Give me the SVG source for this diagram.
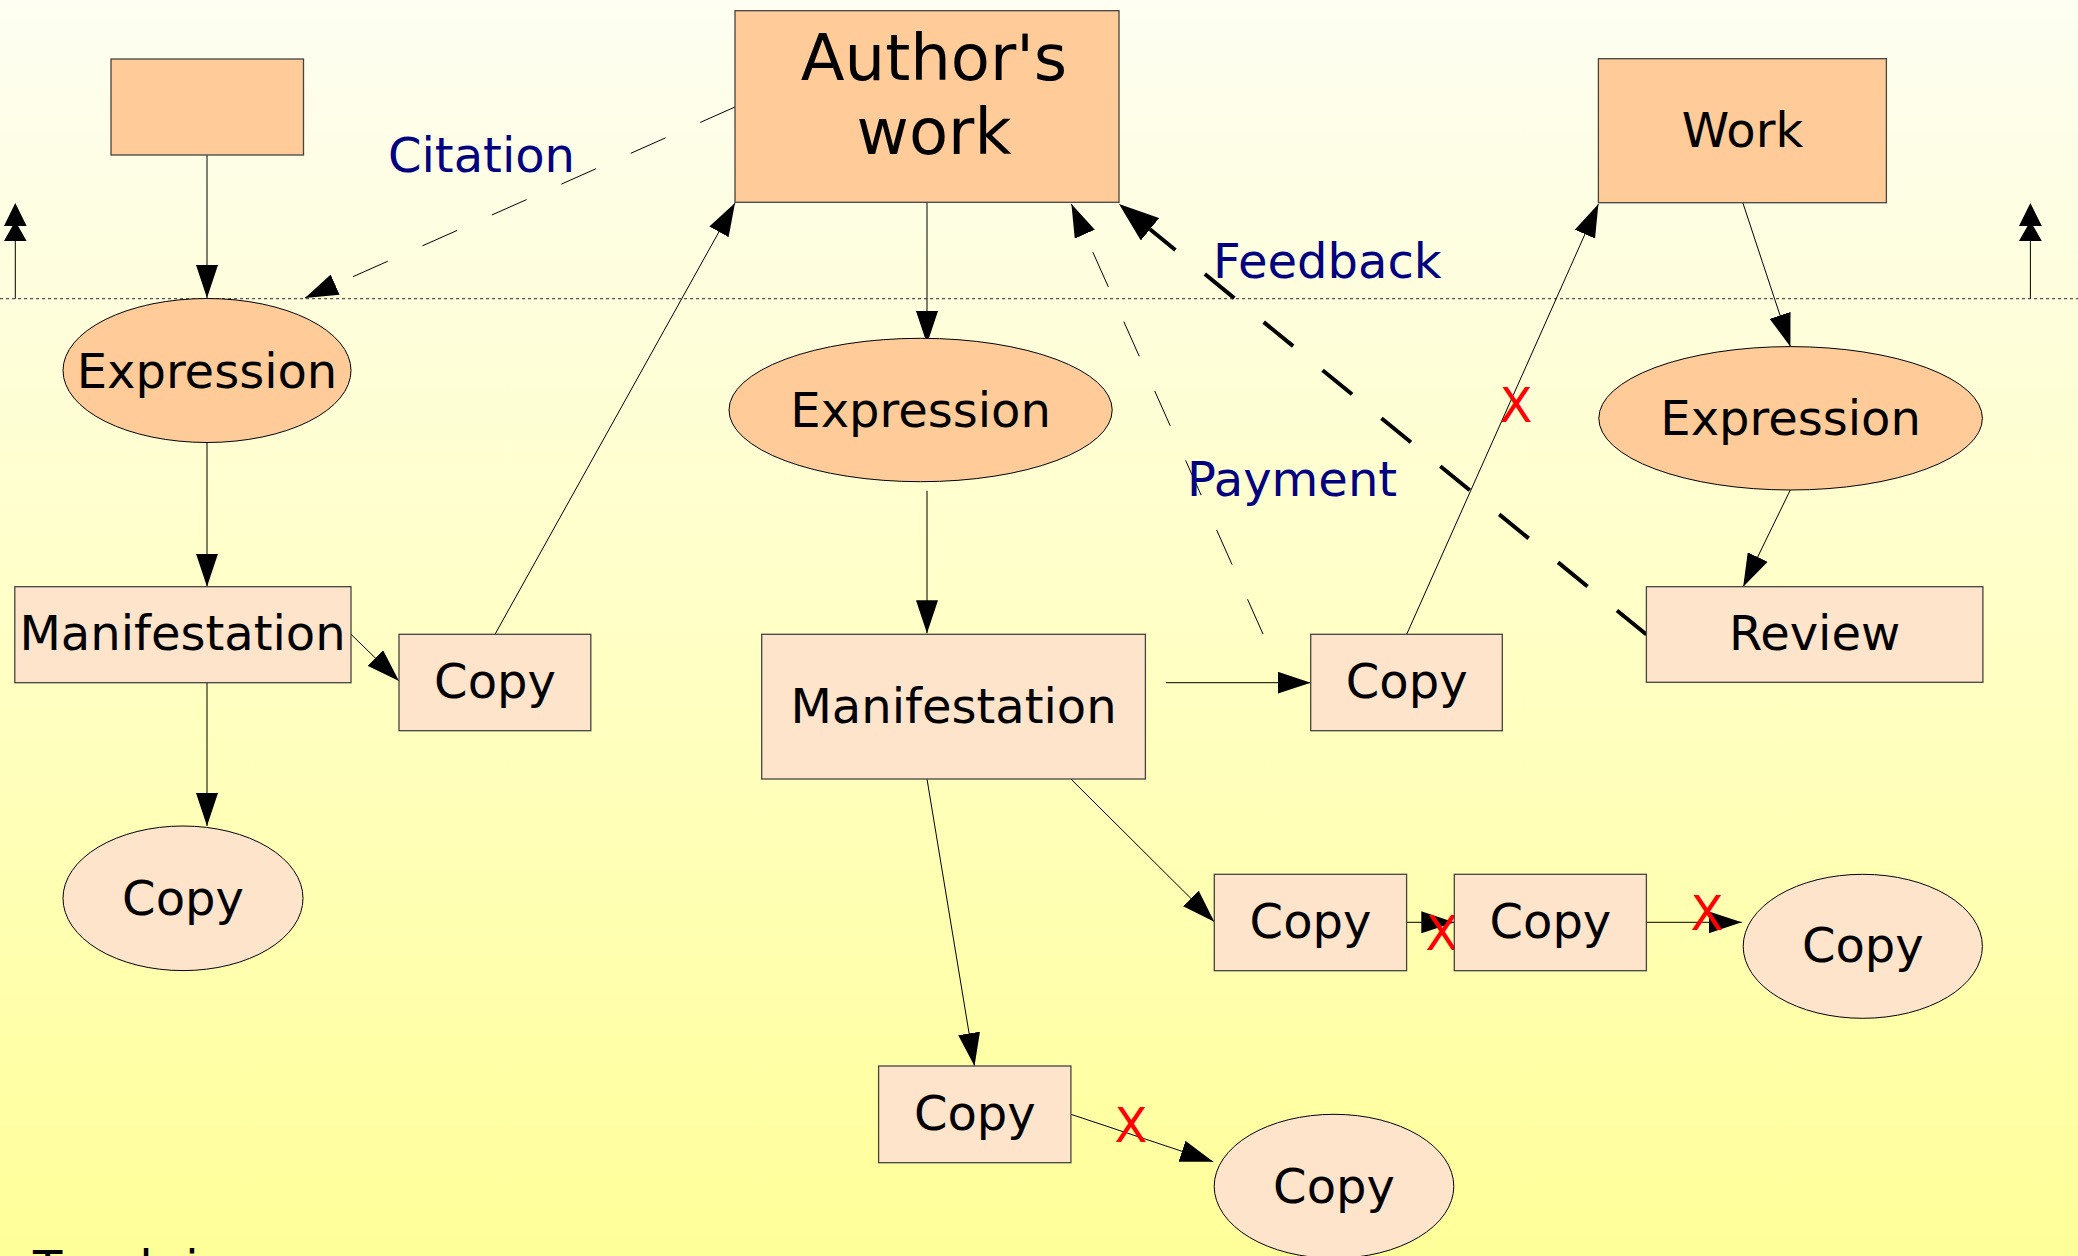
<svg xmlns="http://www.w3.org/2000/svg" width="2078" height="1256" viewBox="0 0 2078 1256">
<defs>
<linearGradient id="bg" x1="0" y1="0" x2="0" y2="1">
<stop offset="0" stop-color="#FEFEF2"/>
<stop offset="1" stop-color="#FFFF99"/>
</linearGradient>
<marker id="ah" viewBox="0 0 33 22" markerWidth="33" markerHeight="22" refX="33" refY="11" orient="auto" markerUnits="userSpaceOnUse">
<path d="M0,0L33,11L0,22z" fill="#000"/>
</marker>
<marker id="ahb" viewBox="0 0 40 29" markerWidth="40" markerHeight="29" refX="0" refY="14.5" orient="auto" markerUnits="userSpaceOnUse">
<path d="M0,0L40,14.5L0,29z" fill="#000"/>
</marker>
</defs>
<style>
.dk{fill:#FFCC99}
.lt{fill:#FFE4CC}
.bx{stroke:#444;stroke-width:1.3}
.el{stroke:#000;stroke-width:1}
.t{font-family:"DejaVu Sans","Liberation Sans",sans-serif;font-size:48px;text-anchor:middle;fill:#000}
.lb{font-family:"DejaVu Sans","Liberation Sans",sans-serif;font-size:48px;fill:#000080}
.x{font-family:"DejaVu Sans","Liberation Sans",sans-serif;font-size:48px;text-anchor:middle;fill:#FF0000}
.c{stroke:#000;stroke-width:1;fill:none}
.ca{stroke:#000;stroke-width:1;fill:none;marker-end:url(#ah)}
.dsh{stroke-dasharray:38 38}
</style>
<rect x="0" y="0" width="2078" height="1256" fill="url(#bg)"/>

<g id="frame">
<line x1="0" y1="298.7" x2="2078" y2="298.7" stroke="#555" stroke-width="1.3" stroke-dasharray="3 3"/>
<line x1="15.3" y1="298.7" x2="15.3" y2="225" stroke="#000" stroke-width="1"/>
<path d="M4,226L15.3,203L26.6,226z M4,241L15.3,221L26.6,241z" fill="#000"/>
<line x1="2030.4" y1="298.7" x2="2030.4" y2="225" stroke="#000" stroke-width="1"/>
<path d="M2019,226L2030.4,203L2041.8,226z M2019,241L2030.4,221L2041.8,241z" fill="#000"/>
</g>

<g id="connectors">
<line class="ca" x1="207" y1="155" x2="207" y2="298"/>
<line class="ca" x1="207" y1="443" x2="207" y2="586.7"/>
<line class="ca" x1="207" y1="682.7" x2="207" y2="826"/>
<line class="ca" x1="351" y1="634.3" x2="399" y2="681"/>
<line class="ca" x1="495" y1="634.3" x2="735" y2="203"/>
<line class="ca dsh" x1="735" y1="107" x2="305" y2="298"/>
<line class="ca" x1="927" y1="202.3" x2="927" y2="344"/>
<line class="ca" x1="927" y1="490.7" x2="927" y2="633.3"/>
<line class="ca" x1="1166" y1="682.7" x2="1310.7" y2="682.7"/>
<line class="ca dsh" x1="1263" y1="634" x2="1071.4" y2="204"/>
<line x1="1646.4" y1="634.5" x2="1150" y2="229.3" stroke="#000" stroke-width="4" stroke-dasharray="38 38" fill="none" marker-end="url(#ahb)"/>
<line class="ca" x1="1406.7" y1="634.3" x2="1598.4" y2="204"/>
<line class="ca" x1="1742.8" y1="202.7" x2="1790.4" y2="346.7"/>
<line class="ca" x1="1790.3" y1="490" x2="1743.2" y2="586.7"/>
<line class="ca" x1="927" y1="779" x2="974.5" y2="1066"/>
<line class="ca" x1="1070.9" y1="779" x2="1214.3" y2="921.7"/>
<line class="ca" x1="1406.6" y1="922.3" x2="1454.3" y2="922.3"/>
<line class="ca" x1="1646.4" y1="922.3" x2="1741.7" y2="922.3"/>
<line class="ca" x1="1070.9" y1="1114.3" x2="1213.3" y2="1161.7"/>
<text class="lb" x="388" y="171.7">Citation</text>
<text class="lb" x="1213" y="277.7">Feedback</text>
<text class="lb" x="1187" y="496">Payment</text>
<text class="x" x="1516" y="422">X</text>
<text class="x" x="1442" y="950">X</text>
<text class="x" x="1707" y="930">X</text>
<text class="x" x="1131" y="1142">X</text>
</g>

<g id="work-left"><rect class="dk bx" x="111" y="59" width="192.5" height="96"/></g>
<g id="expression-left"><ellipse class="dk el" cx="207" cy="370.5" rx="144" ry="72"/><text class="t" x="207" y="387.7">Expression</text></g>
<g id="manifestation-left"><rect class="lt bx" x="14.8" y="586.7" width="336.2" height="96"/><text class="t" x="182.5" y="650">Manifestation</text></g>
<g id="copy-left-box"><rect class="lt bx" x="399" y="634.3" width="191.8" height="96.4"/><text class="t" x="495" y="698.3">Copy</text></g>
<g id="copy-left-ellipse"><ellipse class="lt el" cx="183" cy="898.3" rx="120" ry="72.3"/><text class="t" x="183" y="915">Copy</text></g>

<g id="authors-work"><rect class="dk bx" x="735" y="10.7" width="384" height="191.6"/><text class="t" x="934" y="80" style="font-size:64px">Author's</text><text class="t" x="934" y="154" style="font-size:64px">work</text></g>
<g id="expression-mid"><ellipse class="dk el" cx="920.6" cy="410" rx="191.6" ry="71.7"/><text class="t" x="920.6" y="426.7">Expression</text></g>
<g id="manifestation-mid"><rect class="lt bx" x="761.7" y="634.3" width="383.7" height="144.7"/><text class="t" x="953.5" y="722.7">Manifestation</text></g>
<g id="copy-mid-right"><rect class="lt bx" x="1310.7" y="634.3" width="191.6" height="96.4"/><text class="t" x="1406.7" y="698.3">Copy</text></g>

<g id="work-right"><rect class="dk bx" x="1598.4" y="58.7" width="288" height="144"/><text class="t" x="1742.4" y="146.7">Work</text></g>
<g id="expression-right"><ellipse class="dk el" cx="1790.6" cy="418.3" rx="191.8" ry="71.7"/><text class="t" x="1790.6" y="435">Expression</text></g>
<g id="review"><rect class="lt bx" x="1646.4" y="586.7" width="336.5" height="95.6"/><text class="t" x="1814.6" y="650">Review</text></g>

<g id="copy-a"><rect class="lt bx" x="1214.3" y="874.3" width="192.3" height="96.4"/><text class="t" x="1310.5" y="938.3">Copy</text></g>
<g id="copy-b"><rect class="lt bx" x="1454.3" y="874.3" width="192.1" height="96.4"/><text class="t" x="1550.4" y="938.3">Copy</text></g>
<g id="copy-ellipse-right"><ellipse class="lt el" cx="1862.8" cy="946.3" rx="119.6" ry="72"/><text class="t" x="1862.8" y="961.7">Copy</text></g>
<g id="copy-bottom-box"><rect class="lt bx" x="878.6" y="1066" width="192.3" height="96.7"/><text class="t" x="974.8" y="1130">Copy</text></g>
<g id="copy-ellipse-bottom"><ellipse class="lt el" cx="1334" cy="1186.3" rx="119.8" ry="72"/><text class="t" x="1334" y="1203.3">Copy</text></g>

<g id="caption"><text x="33" y="1285" style="font-family:'DejaVu Sans','Liberation Sans',sans-serif;font-size:48px;fill:#000">Teach in</text></g>
</svg>
